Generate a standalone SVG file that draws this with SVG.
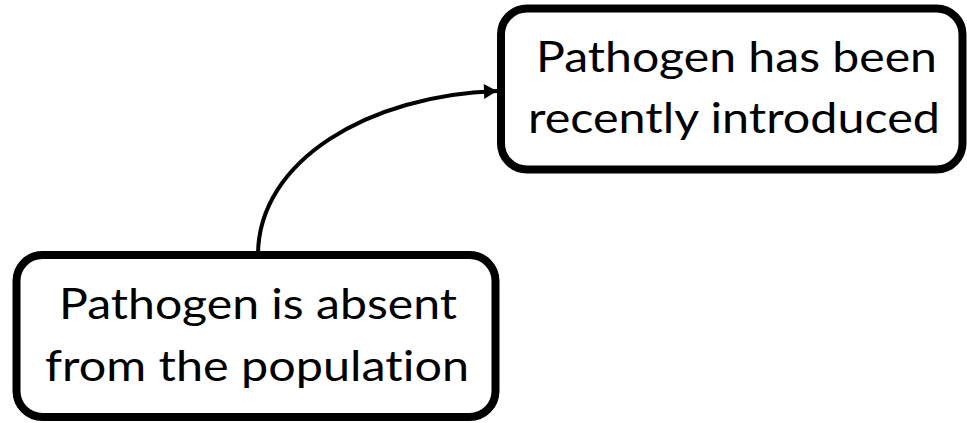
<svg xmlns="http://www.w3.org/2000/svg" width="967" height="423" viewBox="0 0 967 423">
<style>
.box{fill:#fff;stroke:#000;stroke-width:8}
.lbl{font-family:Lato,"Open Sans","Liberation Sans",sans-serif;font-size:42px;fill:#000;font-variant-ligatures:none;font-feature-settings:"liga" 0,"clig" 0}
.conn{fill:none;stroke:#000;stroke-width:4}
</style>
<defs>
<marker id="arr" markerUnits="userSpaceOnUse" markerWidth="16" markerHeight="16" refX="14" refY="8" orient="auto">
<path d="M1,0.5 L14,8 L1,15.5 Z" fill="#000"/>
</marker>
</defs>
<rect width="967" height="423" fill="#fff"/>
<g id="connectors">
<path class="conn" d="M258,255 C258,160 370,95 497,91" marker-end="url(#arr)"/>
</g>
<g id="node-introduced">
<rect class="box" x="501" y="8.5" width="461.5" height="161" rx="26"/>
<text class="lbl" x="536" y="72" textLength="401" lengthAdjust="spacingAndGlyphs">Pathogen has been</text>
<text class="lbl" x="528" y="133" textLength="412" lengthAdjust="spacingAndGlyphs">recently introduced</text>
</g>
<g id="node-absent">
<rect class="box" x="16.5" y="255" width="479" height="162" rx="26"/>
<text class="lbl" x="59" y="318.5" textLength="398" lengthAdjust="spacingAndGlyphs">Pathogen is absent</text>
<text class="lbl" x="45" y="381" textLength="424" lengthAdjust="spacingAndGlyphs">from the population</text>
</g>
</svg>
